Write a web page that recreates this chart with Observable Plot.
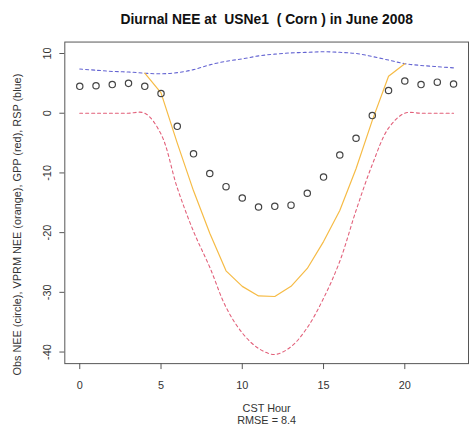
<!DOCTYPE html>
<html>
<head>
<meta charset="utf-8">
<script src="https://cdn.jsdelivr.net/npm/d3@7"></script>
<script src="https://cdn.jsdelivr.net/npm/@observablehq/plot@0.6"></script>
<style>
  html, body { margin: 0; padding: 0; background: #fff; overflow: hidden; }
</style>
</head>
<body>
<div id="chart"></div>
<script>
const titleText = "Diurnal NEE at  USNe1  ( Corn ) in June 2008";
const xLabel = "CST Hour";
const rmseLabel = "RMSE = 8.4";
const yLabel = "Obs NEE (circle), VPRM NEE (orange), GPP (red), RSP (blue)";

const hours = [0,1,2,3,4,5,6,7,8,9,10,11,12,13,14,15,16,17,18,19,20,21,22,23];
const obsNEE = [4.5,4.6,4.8,5.0,4.5,3.3,-2.2,-6.8,-10.1,-12.3,-14.2,-15.7,-15.6,-15.4,-13.4,-10.7,-7.0,-4.2,-0.4,3.8,5.4,4.8,5.2,4.9];
const vprmNEE = [null,null,null,null,6.7,3.4,-5.0,-13.0,-20.1,-26.4,-29.0,-30.6,-30.7,-29.0,-26.0,-21.5,-16.3,-9.3,-1.2,6.2,8.3,null,null,null];
const gpp = [0,0,0,0,0,-3.5,-12.5,-19.8,-25.8,-32.5,-36.8,-39.4,-40.4,-39.1,-35.9,-31.0,-24.8,-16.3,-8.6,-2.5,0,0,0,0];
const rsp = [7.4,7.2,7.0,6.9,6.7,6.6,6.8,7.3,8.1,8.7,9.1,9.6,9.9,10.1,10.2,10.3,10.2,10.0,9.5,8.9,8.3,8.0,7.8,7.6];

const xTicks = [0,5,10,15,20];
const yTicks = [10,0,-10,-20,-30,-40];

const rows = hours.map((h, i) => ({h, obs: obsNEE[i], vprm: vprmNEE[i], gpp: gpp[i], rsp: rsp[i]}));
const font = "'Liberation Sans', Arial, Helvetica, sans-serif";

const chart = Plot.plot({
  width: 474,
  height: 431,
  marginLeft: 65,
  marginRight: 1,
  marginTop: 42,
  marginBottom: 64,
  style: {fontFamily: font, background: "#fff", color: "#333"},
  x: {domain: [-0.92, 23.92], axis: null},
  y: {domain: [-41.94, 11.92], axis: null},
  marks: [
    Plot.frame({stroke: "#555", strokeWidth: 1}),
    Plot.axisX({ticks: xTicks, tickSize: 6, tickPadding: 12, fontSize: 11, label: null, stroke: "#555", tickFormat: d => String(d)}),
    Plot.axisY({ticks: yTicks, tickSize: 5, tickFormat: () => "", label: null, stroke: "#555"}),
    Plot.text(yTicks, {y: d => d, text: d => String(d), frameAnchor: "left", textAnchor: "middle", dx: -17, rotate: -90, fontSize: 11, fill: "#333"}),
    Plot.line(rows, {x: "h", y: "rsp", stroke: "#6464d2", strokeWidth: 1.1, strokeDasharray: "3,3", curve: "catmull-rom"}),
    Plot.line(rows, {x: "h", y: "gpp", stroke: "#e2607a", strokeWidth: 1.1, strokeDasharray: "3,3", curve: "catmull-rom"}),
    Plot.line(rows.filter(d => d.vprm != null), {x: "h", y: "vprm", stroke: "#f6bb45", strokeWidth: 1.2}),
    Plot.dot(rows, {x: "h", y: "obs", r: 3.2, stroke: "#444", strokeWidth: 1.2, fill: "none"}),
    Plot.text([titleText], {frameAnchor: "top", dy: -28, fontSize: 14, fontWeight: "bold", fill: "#111"}),
    Plot.text([xLabel], {frameAnchor: "bottom", dy: 49, fontSize: 11, fill: "#333"}),
    Plot.text([rmseLabel], {frameAnchor: "bottom", dy: 61, fontSize: 11, fill: "#333"}),
    Plot.text([yLabel], {frameAnchor: "left", textAnchor: "middle", dx: -48, dy: 22, rotate: -90, fontSize: 11, fill: "#333"})
  ]
});
document.getElementById("chart").appendChild(chart);
</script>
</body>
</html>
